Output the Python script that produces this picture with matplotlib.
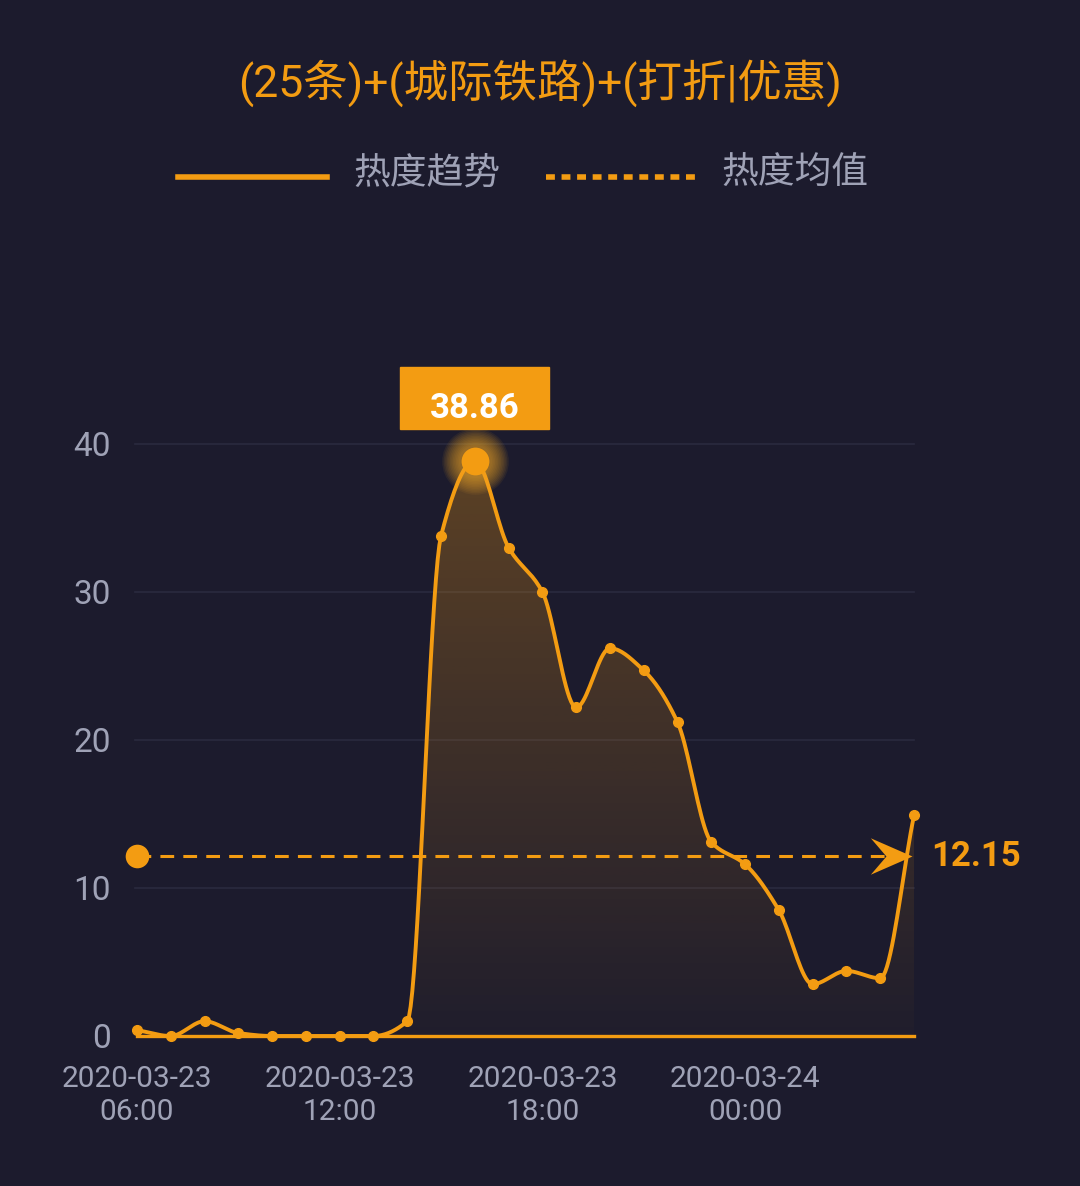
import numpy as np
import matplotlib.pyplot as plt
from matplotlib.lines import Line2D
from matplotlib.path import Path
from matplotlib.patches import Rectangle

plt.rcParams['font.family'] = ['Roboto', 'Noto Sans CJK SC', 'DejaVu Sans']

TITLE = "(25条)+(城际铁路)+(打折|优惠)"
LEGEND = ["热度趋势", "热度均值"]

hours = list(range(24))
values = [0.4, 0.0, 1.0, 0.2, 0.0, 0.0, 0.0, 0.0, 1.0, 33.8, 38.86, 33.0,
          30.0, 22.2, 26.2, 24.7, 21.2, 13.1, 11.6, 8.5, 3.5, 4.4, 3.9, 14.9]
mean_value = 12.15
tick_pos = [0, 6, 12, 18]
tick_labels = ["2020-03-23\n06:00", "2020-03-23\n12:00", "2020-03-23\n18:00", "2020-03-24\n00:00"]
y_ticks = [0, 10, 20, 30, 40]

BG = "#1c1b2d"
ORANGE = "#f39c12"
GREY = "#9fa2b6"
GRID = "#2a2a3f"


def monotone_curve(x, y, n=20):
    x = np.asarray(x, float)
    y = np.asarray(y, float)
    h = np.diff(x)
    d = np.diff(y) / h
    m = np.zeros_like(y)
    m[0], m[-1] = d[0], d[-1]
    for i in range(1, len(y) - 1):
        if d[i - 1] * d[i] > 0:
            m[i] = 2 / (1 / d[i - 1] + 1 / d[i])
    xs, ys = [], []
    for i in range(len(x) - 1):
        t = np.linspace(0, 1, n, endpoint=False)
        h00 = 2 * t**3 - 3 * t**2 + 1
        h10 = t**3 - 2 * t**2 + t
        h01 = -2 * t**3 + 3 * t**2
        h11 = t**3 - t**2
        xs.append(x[i] + t * h[i])
        ys.append(h00 * y[i] + h10 * h[i] * m[i] + h01 * y[i + 1] + h11 * h[i] * m[i + 1])
    xs.append([x[-1]])
    ys.append([y[-1]])
    return np.concatenate(xs), np.concatenate(ys)


fig = plt.figure(figsize=(10.8, 11.86), dpi=100, facecolor=BG)
W, H = 1080, 1186
ax = fig.add_axes([137 / W, 1 - 1036 / H, 777 / W, 592 / H])
ax.set_facecolor(BG)
ax.set_xlim(0, 23)
ax.set_ylim(0, 40)

for s in ax.spines.values():
    s.set_visible(False)
for yv in y_ticks[1:]:
    ax.plot([-0.05, 23], [yv, yv], color=GRID, lw=1.2, zorder=1, clip_on=False)
ax.plot([0, 23], [0, 0], color=ORANGE, lw=2.4, zorder=2, clip_on=False)

ax.set_yticks(y_ticks)
ax.set_yticklabels([str(v) for v in y_ticks], fontsize=24, color=GREY)
ax.set_xticks(tick_pos)
ax.set_xticklabels(tick_labels, fontsize=21.5, color=GREY, linespacing=1.2)
ax.tick_params(length=0)
ax.tick_params(axis='y', pad=19)
ax.tick_params(axis='x', pad=21)

# smooth line with gradient fill
cx, cy = monotone_curve(hours, values)
poly = ax.fill_between(cx, 0, cy, color='none', lw=0)
grad = np.zeros((200, 1, 4))
c = np.array([0xf3, 0x9c, 0x12]) / 255
grad[:, 0, :3] = c
grad[:, 0, 3] = np.linspace(0.3, 0.02, 200)
img = ax.imshow(grad, extent=[0, 23, 0, max(values)], aspect='auto', origin='upper', zorder=2)
img.set_clip_path(poly.get_paths()[0], transform=ax.transData)
ax.plot(cx, cy, color=ORANGE, lw=2.8, zorder=4, clip_on=False, solid_capstyle='round')
ax.plot(hours, values, 'o', color=ORANGE, ms=7, zorder=5, clip_on=False)

# peak marker with soft glow
peak_i = int(np.argmax(values))
px, py = hours[peak_i], values[peak_i]
for ms in np.linspace(48, 24, 12):
    ax.plot(px, py, 'o', color="#f5ab26", ms=ms, alpha=0.07, mec='none', zorder=6, clip_on=False)
ax.plot(px, py, 'o', color=ORANGE, ms=20, mec='none', zorder=7, clip_on=False)
fig.patches.append(Rectangle((400 / W, 1 - 429 / H), 149 / W, 62 / H, transform=fig.transFigure,
                             color=ORANGE, zorder=8))
fig.text(474.5 / W, 1 - 408 / H, f"{py:.2f}", color="white", fontsize=25, fontweight='bold',
         ha='center', va='center', zorder=9)

# mean line
ax.plot([0, 22.9], [mean_value, mean_value], color=ORANGE, lw=2.2, dashes=(4.5, 3), zorder=6,
        clip_on=False)
ax.plot(0, mean_value, 'o', color=ORANGE, ms=17, mec='none', zorder=7, clip_on=False)
arrow = Path([(0, 0), (-1.6, 0.7), (-1.0, 0), (-1.6, -0.7), (0, 0)],
             [Path.MOVETO, Path.LINETO, Path.LINETO, Path.LINETO, Path.CLOSEPOLY])
ax.plot(22.95, mean_value, marker=arrow, color=ORANGE, ms=60, mec='none', zorder=7, clip_on=False)
ax.text(23.5, mean_value, f"{mean_value:.2f}", color=ORANGE, fontsize=25, fontweight='bold',
        va='center', ha='left', clip_on=False)

# title and legend
fig.text(540 / W, 1 - 83 / H, TITLE, color=ORANGE, fontsize=32, ha='center', va='center')
fig.lines.append(Line2D([178 / W, 327 / W], [1 - 177 / H] * 2, transform=fig.transFigure,
                        color=ORANGE, lw=4))
fig.text(353 / W, 1 - 174 / H, LEGEND[0], color=GREY, fontsize=26.5, ha='left', va='center')
fig.lines.append(Line2D([546 / W, 695 / W], [1 - 177 / H] * 2, transform=fig.transFigure,
                        color=ORANGE, lw=4, dashes=(1.6, 1.2)))
fig.text(721 / W, 1 - 174 / H, LEGEND[1], color=GREY, fontsize=26.5, ha='left', va='center')

fig.savefig("out.png", dpi=100, facecolor=BG)
